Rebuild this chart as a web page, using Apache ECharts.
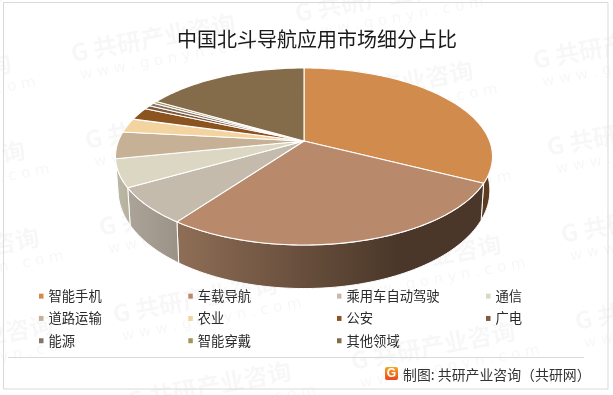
<!DOCTYPE html>
<html><head><meta charset="utf-8">
<style>html,body{margin:0;padding:0;background:#fff}#c{width:613px;height:395px}</style>
<script src="https://cdn.jsdelivr.net/npm/echarts@6/dist/echarts.min.js"></script>
</head><body><div id="c"></div>
<script>
const categories=['智能手机','车载导航','乘用车自动驾驶','通信','道路运输','农业','公安','广电','能源','智能穿戴','其他领域'];
const shares=[32.5,27.5,6.7,5.1,4.9,2.6,2.3,0.7,0.6,0.45,16.65];
const topColors=['#D18B4D','#B9896C','#C5BBAC','#DBD7C3','#C6B196','#F3D39F','#8B5320','#7F5A3E','#857562','#A8935C','#846C4A'];
const wallColors=[['#5C3B1E','#5C3B1E'],['#8F6E56','#4A3729'],['#ACA498','#9A9286'],['#BDB9A8','#B5B09E']];
const titleText='中国北斗导航应用市场细分占比';
const sourceText='制图: 共研产业咨询（共研网）';
const legendColumns=[['智能手机','道路运输','能源'],['车载导航','农业','智能穿戴'],['乘用车自动驾驶','公安','其他领域'],['通信','广电']];
const legendLefts=[39,188.3,337,486];

const FONT='"Noto Sans CJK SC","Noto Sans",sans-serif';
const CX=304,K=0.175;
const topDisk={y:141,h:85.8,r:185.6}, botDisk={y:173.4,h:95,r:183};
function proj(d,deg){
  const t=deg*Math.PI/180,u=Math.sin(t),v=-Math.cos(t),w=1-K*v;
  return [CX+d.r*u/w,d.y+d.h*v/w];
}
const total=shares.reduce((a,b)=>a+b,0);
let acc=0;
const ranges=shares.map(s=>{const a=acc/total*360;acc+=s;return [a,acc/total*360];});
function arc(d,a,b){const n=Math.max(2,Math.ceil((b-a)/1.2)),p=[];for(let i=0;i<=n;i++)p.push(proj(d,a+(b-a)*i/n));return p;}

const series=categories.map((name,i)=>({
  type:'custom',name,coordinateSystem:'none',z:3,silent:true,
  itemStyle:{color:topColors[i]},
  data:[[shares[i]]],
  renderItem(){
    const [a,b]=ranges[i],children=[];
    if(wallColors[i]){
      const pts=arc(topDisk,a,b).concat(arc(botDisk,a,b).reverse());
      children.push({type:'polygon',z2:1+i,shape:{points:pts},style:{
        fill:new echarts.graphic.LinearGradient(0,0,1,0,i===1?
          [{offset:0,color:wallColors[i][0]},{offset:0.72,color:wallColors[i][1]},{offset:1,color:wallColors[i][1]}]:
          [{offset:0,color:wallColors[i][0]},{offset:1,color:wallColors[i][1]}]),
        stroke:'#fff',lineWidth:1}});
    }
    const face=[[CX,topDisk.y]].concat(arc(topDisk,a,b));
    children.push({type:'polygon',z2:20,shape:{points:face},style:{fill:topColors[i],stroke:'#fff',lineWidth:1.1,lineJoin:'round'}});
    return {type:'group',children};
  }
}));

const legend=legendColumns.map((col,i)=>({
  orient:'vertical',left:legendLefts[i],top:289.5,padding:0,data:col,selectedMode:false,
  itemWidth:4.5,itemHeight:5,itemGap:9,icon:'rect',
  textStyle:{fontFamily:FONT,fontSize:13.3,color:'#2a2a2a'}
}));

const marks=[];
const A0=[71,53],VA=[224,-40],VB=[14,87],ROT=10.6*Math.PI/180;
for(let i=-2;i<=3;i++)for(let j=-2;j<=6;j++){
  const x=A0[0]+i*VA[0]+j*VB[0],y=A0[1]+i*VA[1]+j*VB[1];
  if(x<-190||x>620||y<-40||y>430)continue;
  marks.push({type:'group',x,y,rotation:ROT,silent:true,z:0,children:[
    {type:'text',x:0,y:0,style:{text:'G 共研产业咨询',fill:'rgba(0,0,0,0.03)',font:'bold 24px '+FONT,verticalAlign:'middle'}},
    {type:'text',x:5,y:24,style:{text:'w w w . g o n y n . c o m',fill:'rgba(0,0,0,0.035)',font:'15px "DejaVu Sans",sans-serif',verticalAlign:'middle'}}
  ]});
}
const graphic=marks.concat([
  {type:'rect',z:1,silent:true,shape:{x:3.5,y:2.5,width:604.5,height:386.5},style:{fill:'none',stroke:'#D9D9D9',lineWidth:1}},
  {type:'line',z:1,silent:true,shape:{x1:8,y1:357.5,x2:584,y2:357.5},style:{stroke:'#D9D9D9',lineWidth:1}},
  {type:'rect',z:4,silent:true,shape:{x:385,y:367,width:13,height:13,r:2},style:{fill:new echarts.graphic.LinearGradient(0,0,0,1,[{offset:0,color:'#F5A623'},{offset:1,color:'#E8481C'}])}},
  {type:'text',z:5,silent:true,x:391.5,y:374,style:{text:'G',fill:'#fff',font:'bold 12px "Liberation Sans",sans-serif',align:'center',verticalAlign:'middle'}},
  {type:'text',z:4,silent:true,x:403,y:374.5,style:{text:sourceText,fill:'#333',font:'13.9px '+FONT,verticalAlign:'middle'}},
]);

const chart=echarts.init(document.getElementById('c'),null,{renderer:'canvas'});
chart.setOption({
  animation:false,backgroundColor:'#fff',
  title:{text:titleText,left:177,top:29.5,padding:0,textStyle:{fontFamily:FONT,fontSize:20,fontWeight:'normal',color:'#1a1a1a'}},
  legend,series,graphic
});
</script></body></html>
